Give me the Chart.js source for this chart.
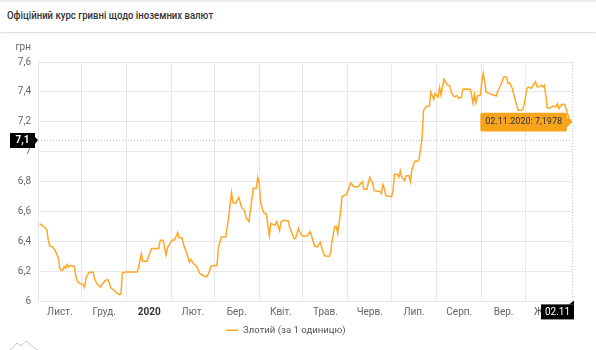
<!DOCTYPE html>
<html>
<head>
<meta charset="utf-8">
<script src="https://cdn.jsdelivr.net/npm/chart.js@4.4.1/dist/chart.umd.min.js"></script>
<style>
  html, body { margin: 0; padding: 0; background: #fff; }
  body { width: 596px; height: 350px; position: relative; overflow: hidden; font-family: Roboto, Arial, sans-serif; }
  #topline { position: absolute; left: 0; top: 0; width: 596px; height: 2px; background: #ececec; }
  #title { position: absolute; left: 7px; top: 9px; font-size: 11px; font-weight: 500; color: #333; white-space: nowrap; transform: scaleX(0.87); transform-origin: left center; }
  #sep { position: absolute; left: 0; top: 32px; width: 596px; height: 1px; background: #e2e2e2; box-shadow: 0 1px 2px rgba(0,0,0,0.08); }
  #wrap { position: absolute; left: 0; top: 0; width: 596px; height: 350px; }
  #logo { position: absolute; left: 9px; top: 339px; }
</style>
</head>
<body>
<div id="topline"></div>
<div id="title">Офіційний курс гривні щодо іноземних валют</div>
<div id="sep"></div>
<div id="wrap"><canvas id="rateChart" width="596" height="350"></canvas></div>
<svg id="logo" width="30" height="12"><path d="M1 11 L8 4 L12 7 L17 2 L23 7 L29 11" fill="none" stroke="#c8c8c8" stroke-width="1"/></svg>
<script>
// days counted from 02.11.2019
const days = [
  0, 3, 4, 5, 6, 7, 9, 11, 13, 14, 15, 16, 17, 18, 19, 20, 21, 22, 24, 25,
  26, 28, 30, 31, 32, 34, 37, 38, 40, 42, 43, 44, 45, 47, 48, 49, 51, 53, 55, 56,
  57, 59, 67, 68, 70, 71, 74, 75, 76, 77, 82, 83, 85, 87, 88, 91, 93, 95, 96, 98,
  99, 101, 103, 104, 106, 108, 110, 112, 115, 116, 118, 120, 122, 123, 125, 128, 130, 132, 133, 135,
  137, 139, 141, 142, 144, 147, 149, 150, 151, 152, 154, 156, 157, 158, 159, 162, 163, 165, 166, 168,
  171, 172, 173, 175, 176, 178, 179, 181, 184, 186, 187, 189, 191, 193, 194, 196, 199, 200, 201, 203,
  204, 205, 207, 208, 211, 212, 214, 216, 219, 221, 222, 223, 225, 227, 229, 230, 234, 235, 236, 237,
  238, 242, 243, 244, 246, 247, 248, 249, 251, 252, 254, 255, 256, 258, 260, 261, 263, 264, 266, 268,
  269, 271, 272, 274, 275, 276, 278, 280, 282, 283, 285, 287, 288, 290, 291, 293, 296, 297, 298, 299,
  300, 301, 303, 304, 305, 306, 307, 309, 311, 314, 315, 316, 318, 319, 321, 322, 323, 325, 326, 328,
  329, 331, 332, 333, 335, 336, 338, 339, 341, 342, 343, 345, 346, 347, 348, 349, 351, 353, 355, 356,
  357, 359, 361, 363, 364, 366
];
const rates = [
  6.52, 6.50, 6.49, 6.48, 6.415, 6.37, 6.365, 6.336, 6.29, 6.22, 6.206, 6.21, 6.233, 6.22, 6.247, 6.23, 6.24, 6.24, 6.233, 6.168,
  6.134, 6.12, 6.114, 6.094, 6.157, 6.195, 6.195, 6.146, 6.112, 6.094, 6.117, 6.123, 6.139, 6.146, 6.123, 6.09, 6.078, 6.056, 6.045, 6.05,
  6.19, 6.197, 6.197, 6.22, 6.318, 6.269, 6.269, 6.30, 6.325, 6.354, 6.354, 6.408, 6.408, 6.309, 6.358, 6.408, 6.412, 6.46, 6.425, 6.425,
  6.38, 6.33, 6.264, 6.28, 6.25, 6.235, 6.19, 6.175, 6.165, 6.183, 6.235, 6.24, 6.24, 6.36, 6.43, 6.43, 6.56, 6.728, 6.66, 6.655,
  6.695, 6.627, 6.605, 6.56, 6.533, 6.757, 6.757, 6.83, 6.795, 6.66, 6.594, 6.583, 6.504, 6.437, 6.52, 6.51, 6.533, 6.475, 6.533, 6.542,
  6.538, 6.493, 6.47, 6.42, 6.42, 6.489, 6.46, 6.437, 6.437, 6.466, 6.44, 6.37, 6.365, 6.395, 6.358, 6.305, 6.30, 6.32, 6.40, 6.50,
  6.504, 6.455, 6.60, 6.703, 6.713, 6.74, 6.792, 6.766, 6.766, 6.79, 6.80, 6.75, 6.75, 6.83, 6.79, 6.74, 6.735, 6.72, 6.78, 6.757,
  6.706, 6.70, 6.74, 6.85, 6.85, 6.83, 6.874, 6.83, 6.807, 6.84, 6.84, 6.80, 6.885, 6.936, 6.936, 6.953, 7.098, 7.277, 7.304, 7.306,
  7.40, 7.35, 7.39, 7.365, 7.43, 7.38, 7.486, 7.45, 7.44, 7.396, 7.367, 7.375, 7.358, 7.365, 7.418, 7.42, 7.418, 7.383, 7.322, 7.383,
  7.326, 7.373, 7.378, 7.468, 7.524, 7.468, 7.40, 7.39, 7.383, 7.373, 7.405, 7.423, 7.468, 7.50, 7.50, 7.457, 7.463, 7.423, 7.383, 7.311,
  7.277, 7.277, 7.283, 7.311, 7.423, 7.434, 7.423, 7.44, 7.468, 7.434, 7.434, 7.445, 7.434, 7.445, 7.378, 7.293, 7.293, 7.306, 7.30, 7.322,
  7.289, 7.318, 7.316, 7.255, 7.222, 7.1978
];
// month boundaries (same day count) and their labels
const monthStarts = [-1, 29, 60, 91, 120, 151, 181, 212, 242, 273, 304, 334, 365];
const monthLabels = ['Лист.', 'Груд.', '2020', 'Лют.', 'Бер.', 'Квіт.', 'Трав.', 'Черв.', 'Лип.', 'Серп.', 'Вер.', 'Жовт.'];
const yMin = 6;
const yMax = 7.6;
const yStep = 0.2;
const seriesLabel = 'Злотий (за 1 одиницю)';
const unitLabel = 'грн';
const crossValue = 7.08;   // mouse crosshair position on the y axis
const startDate = new Date(2019, 10, 2);

const FONT = 'Roboto, Arial, sans-serif';
const LINE_COLOR = '#ffa726';

function fmt(v, digits) {
  return v.toFixed(digits).replace('.', ',');
}

function dayToDate(d) {
  const dt = new Date(startDate.getTime());
  dt.setDate(dt.getDate() + d);
  const dd = String(dt.getDate()).padStart(2, '0');
  const mm = String(dt.getMonth() + 1).padStart(2, '0');
  return dd + '.' + mm + '.' + dt.getFullYear();
}

// tick list: month starts (grid lines) and month middles (labels)
const xTickLabels = {};
const xTickValues = [];
monthStarts.forEach((d, i) => {
  xTickValues.push(d);
  if (i < monthLabels.length) {
    const mid = (d + monthStarts[i + 1]) / 2;
    xTickValues.push(mid);
    xTickLabels[mid] = monthLabels[i];
  }
});

const points = days.map((d, i) => ({ x: d, y: rates[i] }));
const lastIndex = points.length - 1;

// crosshair lines and their axis labels
const crosshairPlugin = {
  id: 'crosshair',
  beforeDatasetsDraw(chart) {
    const { ctx, chartArea, scales } = chart;
    const yPix = scales.y.getPixelForValue(crossValue);
    const xPix = scales.x.getPixelForValue(days[lastIndex]);
    ctx.save();
    ctx.strokeStyle = '#c4c4c4';
    ctx.lineWidth = 1;
    ctx.setLineDash([1, 2]);
    ctx.beginPath();
    ctx.moveTo(chartArea.left, Math.round(yPix) + 0.5);
    ctx.lineTo(chartArea.right, Math.round(yPix) + 0.5);
    ctx.moveTo(Math.round(xPix) + 0.5, chartArea.top);
    ctx.lineTo(Math.round(xPix) + 0.5, chartArea.bottom);
    ctx.stroke();
    ctx.restore();
  },
  afterDraw(chart) {
    const { ctx, chartArea, scales } = chart;
    const yPix = Math.round(scales.y.getPixelForValue(crossValue));
    const xPix = Math.round(scales.x.getPixelForValue(days[lastIndex]));
    ctx.save();
    // unit label over the y axis
    ctx.fillStyle = '#666';
    ctx.font = '10px ' + FONT;
    ctx.textAlign = 'right';
    ctx.textBaseline = 'middle';
    ctx.fillText(unitLabel, chartArea.left - 7, chartArea.top - 15);

    // y crosshair label
    const bx = chartArea.left - 28;
    ctx.fillStyle = '#000';
    ctx.fillRect(bx, yPix - 7, 25, 15);
    ctx.beginPath();
    ctx.moveTo(bx + 25, yPix - 3);
    ctx.lineTo(chartArea.left, yPix);
    ctx.lineTo(bx + 25, yPix + 4);
    ctx.fill();
    ctx.fillStyle = '#fff';
    ctx.font = 'bold 10px ' + FONT;
    ctx.textAlign = 'center';
    ctx.fillText(fmt(crossValue, 1), bx + 12.5, yPix + 0.5);

    // x crosshair label
    const lx = xPix + 2;
    const ty = chartArea.bottom + 3;
    ctx.fillStyle = '#000';
    ctx.fillRect(lx - 33, ty, 33, 15);
    ctx.beginPath();
    ctx.moveTo(lx - 5, ty);
    ctx.lineTo(lx, ty - 4);
    ctx.lineTo(lx, ty);
    ctx.fill();
    ctx.fillStyle = '#fff';
    ctx.font = '10px ' + FONT;
    ctx.fillText(dayToDate(days[lastIndex]).slice(0, 5), lx - 16.5, ty + 8);
    ctx.restore();
  }
};

const chart = new Chart(document.getElementById('rateChart').getContext('2d'), {
  type: 'line',
  data: {
    datasets: [{
      label: seriesLabel,
      data: points,
      borderColor: LINE_COLOR,
      backgroundColor: LINE_COLOR,
      borderWidth: 1.5,
      pointRadius: 0,
      pointHoverRadius: 0,
      tension: 0,
      fill: false
    }]
  },
  options: {
    responsive: false,
    animation: false,
    events: [],
    layout: { padding: { top: 62, right: 24, left: 0, bottom: 5 } },
    scales: {
      x: {
        type: 'linear',
        min: monthStarts[0],
        max: days[lastIndex],
        afterBuildTicks(scale) {
          scale.ticks = xTickValues.map(v => ({ value: v }));
        },
        afterFit(scale) { scale.height = 20; },
        border: { display: false },
        grid: {
          drawTicks: false,
          color(c) {
            const v = c.tick ? c.tick.value : null;
            if (v === monthStarts[monthStarts.length - 1]) return 'rgba(0,0,0,0)';
            return monthStarts.includes(v) ? '#e8e8e8' : 'rgba(0,0,0,0)';
          }
        },
        ticks: {
          autoSkip: false,
          maxRotation: 0,
          padding: 5,
          color(c) { return c.tick && c.tick.label === '2020' ? '#333' : '#666'; },
          font(c) {
            return { family: FONT, size: 10, weight: c.tick && c.tick.label === '2020' ? 'bold' : 'normal' };
          },
          callback(v) { return xTickLabels[v] || ''; }
        }
      },
      y: {
        min: yMin,
        max: yMax,
        afterFit(scale) { scale.width = 38; },
        border: { display: false },
        grid: { drawTicks: false, color: '#e8e8e8' },
        ticks: {
          stepSize: yStep,
          padding: 7,
          color: '#666',
          font: { family: FONT, size: 10 },
          callback(v) { return fmt(Math.round(v * 10) / 10, 1).replace(',0', ''); }
        }
      }
    },
    plugins: {
      legend: {
        position: 'bottom',
        labels: {
          usePointStyle: true,
          pointStyle: 'line',
          pointStyleWidth: 12,
          boxHeight: 10,
          padding: 4,
          color: '#555',
          font: { family: FONT, size: 9.6 }
        }
      },
      tooltip: {
        enabled: true,
        backgroundColor: '#f7a31c',
        bodyColor: '#333',
        bodyFont: { family: FONT, size: 9 },
        displayColors: false,
        xAlign: 'right',
        yAlign: 'center',
        caretSize: 5,
        caretPadding: 0,
        cornerRadius: 2,
        padding: { x: 5, y: 4 },
        callbacks: {
          title() { return ''; },
          label(c) { return dayToDate(c.parsed.x) + ': ' + fmt(c.parsed.y, 4); }
        }
      }
    }
  },
  plugins: [crosshairPlugin]
});

chart.tooltip.setActiveElements([{ datasetIndex: 0, index: lastIndex }], { x: 0, y: 0 });
chart.update();
</script>
</body>
</html>
